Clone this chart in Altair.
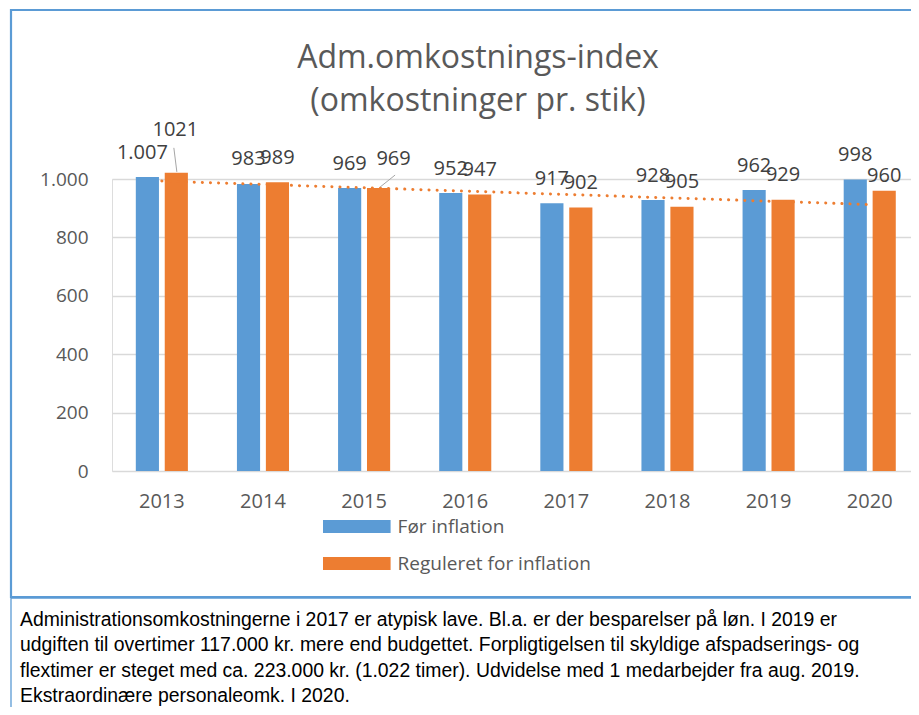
import altair as alt
import pandas as pd

# ---------------- data ----------------
YEARS = [2013, 2014, 2015, 2016, 2017, 2018, 2019, 2020]
FOER_INFLATION = [1007, 983, 969, 952, 917, 928, 962, 998]
REGULERET = [1021, 989, 969, 947, 902, 905, 929, 960]
SERIES = ["Før inflation", "Reguleret for inflation"]
Y_TICKS = [0, 200, 400, 600, 800, 1000]
TITLE = ["Adm.omkostnings-index", "(omkostninger pr. stik)"]
NOTE = [
    "Administrationsomkostningerne i 2017 er atypisk lave. Bl.a. er der besparelser på løn. I 2019 er",
    "udgiften til overtimer 117.000 kr. mere end budgettet. Forpligtigelsen til skyldige afspadserings- og",
    "flextimer er steget med ca. 223.000 kr. (1.022 timer). Udvidelse med 1 medarbejder fra aug. 2019.",
    "Ekstraordinære personaleomk. I 2020.",
]

# ---------------- styles ----------------
BLUE = "#5b9bd5"
ORANGE = "#ed7d31"
GRID = "#d9d9d9"
AXIS_TXT = "#595959"
LABEL_TXT = "#404040"
FONT = "Open Sans"

rows = []
for yr, a, b in zip(YEARS, FOER_INFLATION, REGULERET):
    rows.append({"year": yr, "series": SERIES[0], "value": a,
                 "label": f"{a:,}".replace(",", ".")})
    rows.append({"year": yr, "series": SERIES[1], "value": b, "label": str(b)})
df = pd.DataFrame(rows)
one = pd.DataFrame({"k": [0]})

PLOT_W, PLOT_H = 799, 292

x_enc = alt.X(
    "year:O",
    scale=alt.Scale(paddingInner=0.485, paddingOuter=0.193, align=0.61),
    axis=alt.Axis(title=None, labelAngle=0, labelFont=FONT, labelFontSize=20,
                  labelColor=AXIS_TXT, ticks=False, tickSize=0, domain=False,
                  labelPadding=20, grid=False),
)
y_enc = alt.Y(
    "value:Q",
    scale=alt.Scale(domain=[0, 1000], nice=False),
    axis=alt.Axis(title=None, values=Y_TICKS,
                  labelExpr="replace(format(datum.value, ','), ',', '.')",
                  labelFont=FONT, labelFontSize=19, labelColor=AXIS_TXT,
                  ticks=False, tickSize=0, domain=False, labelPadding=24,
                  grid=True, gridColor=GRID, gridWidth=1.3),
)
xoff = alt.XOffset("series:N", sort=SERIES,
                   scale=alt.Scale(paddingInner=0.2, paddingOuter=0))

base = alt.Chart(df)

# decorations: chart frame and note box
frame = alt.Chart(one).mark_rect(fill="transparent", stroke=BLUE, strokeWidth=2.2).encode(
    x=alt.value(-101), x2=alt.value(815), y=alt.value(-169), y2=alt.value(418))
notebox = alt.Chart(one).mark_rect(fill="transparent", stroke=BLUE, strokeWidth=1.3).encode(
    x=alt.value(-101), x2=alt.value(815), y=alt.value(419), y2=alt.value(560))

# chart title (two lines)
title = alt.Chart(one).mark_text(
    align="center", baseline="alphabetic", font=FONT, fontSize=32,
    color=AXIS_TXT, lineHeight=43
).encode(x=alt.value(366), y=alt.value(-111), text=alt.value(TITLE))

bars = base.mark_bar().encode(
    x=x_enc,
    y=y_enc,
    xOffset=xoff,
    color=alt.Color(
        "series:N", sort=SERIES,
        scale=alt.Scale(domain=SERIES, range=[BLUE, ORANGE]),
        legend=alt.Legend(orient="none", legendX=235.3, legendY=338, direction="vertical",
                          title=None, symbolType="M-5.2,-1H5.2V1H-5.2Z", symbolSize=169,
                          symbolStrokeWidth=0, symbolOpacity=1, labelFont=FONT,
                          labelFontSize=19, labelColor=AXIS_TXT, labelOffset=31.3,
                          rowPadding=17, padding=0, labelLimit=400),
    ),
)

trend = base.transform_filter(
    alt.datum.series == SERIES[1]
).transform_regression("year", "value").mark_line(
    color=ORANGE, strokeWidth=3, strokeDash=[0.1, 8], strokeCap="round"
).encode(x="year:O", y="value:Q")

# data labels: default placement plus a few nudged ones (as in the original)
NUDGES = {
    (2013, SERIES[0]): (-5, 1),
    (2013, SERIES[1]): (-1, -18),
    (2015, SERIES[1]): (15, -5),
    (2020, SERIES[1]): (0, 10),
}
DEFAULT_DY = -18.5

def is_key(yr, s):
    return (alt.datum.year == yr) & (alt.datum.series == s)

not_nudged = None
for (yr, s) in NUDGES:
    cond = ~is_key(yr, s)
    not_nudged = cond if not_nudged is None else (not_nudged & cond)

label_layers = [
    base.transform_filter(not_nudged).mark_text(
        font=FONT, fontSize=20, color=LABEL_TXT, baseline="alphabetic", dy=DEFAULT_DY
    ).encode(x="year:O", y="value:Q", xOffset=xoff, text="label:N")
]
for (yr, s), (dx, dy) in NUDGES.items():
    label_layers.append(
        base.transform_filter(is_key(yr, s)).mark_text(
            font=FONT, fontSize=20, color=LABEL_TXT, baseline="alphabetic",
            dx=dx, dy=DEFAULT_DY + dy
        ).encode(x="year:O", y="value:Q", xOffset=xoff, text="label:N")
    )

# leader lines for moved labels
LEADERS = [
    (2013, 14.5 + 0.5, 14.5 - 2.5, -1, -25),
    (2015, 14.5 + 1.5, 14.5 + 16.5, -1, -13),
]
leader_layers = []
for yr, x1, x2, y1, y2 in LEADERS:
    leader_layers.append(
        base.transform_filter(is_key(yr, SERIES[1])).mark_rule(
            color="#a6a6a6", strokeWidth=1,
            xOffset=x1, x2Offset=x2, yOffset=y1, y2Offset=y2
        ).encode(x="year:O", x2="year", y="value:Q", y2="value")
    )

note = alt.Chart(one).mark_text(
    align="left", baseline="alphabetic", font="Liberation Sans", fontSize=19.4,
    color="#000000", lineHeight=25.3
).encode(x=alt.value(-92), y=alt.value(447), text=alt.value(NOTE))

chart = alt.layer(
    frame, notebox, title, bars, trend, *leader_layers, *label_layers, note
).properties(
    width=PLOT_W, height=PLOT_H,
    padding={"left": 104, "top": 171, "right": 0, "bottom": 236},
    autosize=alt.AutoSizeParams(type="none"),
).configure_view(stroke=None).configure(background="white")

chart.save("out.html", embed_options={"renderer": "svg", "actions": False})
